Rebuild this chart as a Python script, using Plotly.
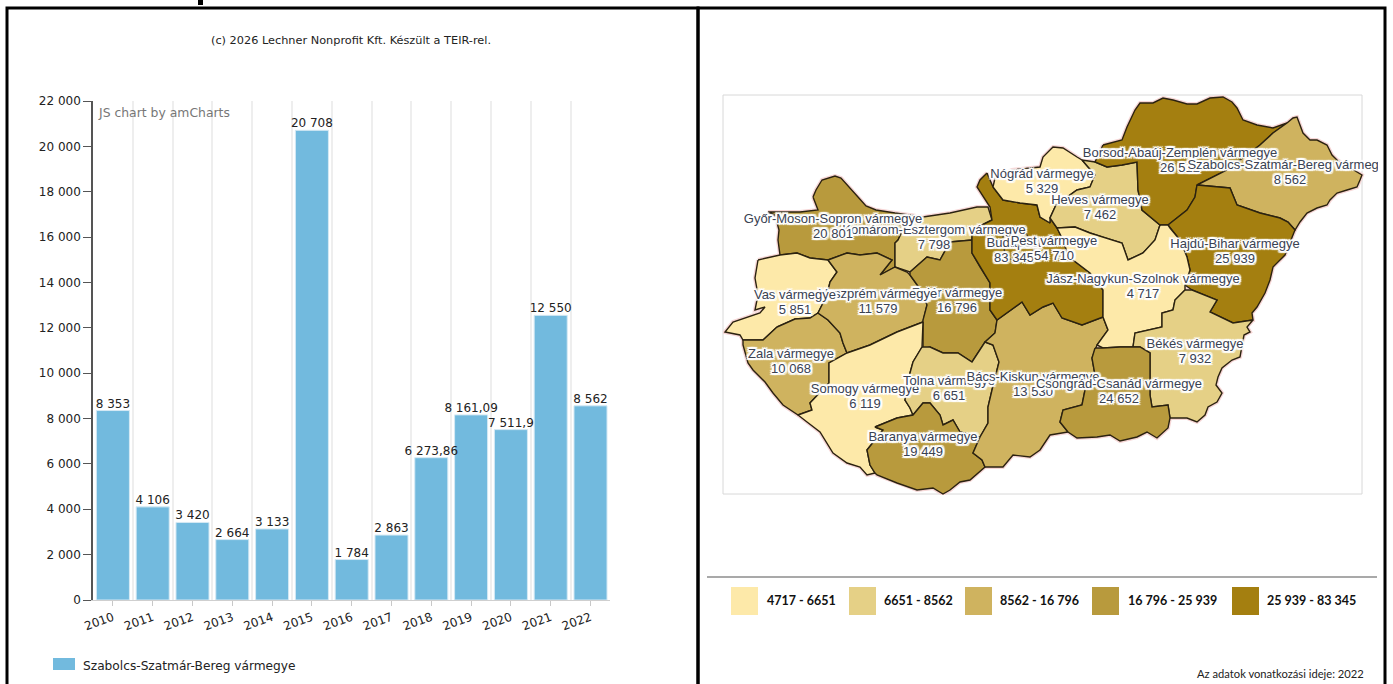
import plotly.graph_objects as go

W, H = 1393, 684

# ---------- bar chart data ----------
years = list(range(2010, 2023))
values = [8353, 4106, 3420, 2664, 3133, 20708, 1784, 2863, 6273.86, 8161.09, 7511.9, 12550, 8562]
value_labels = ["8 353", "4 106", "3 420", "2 664", "3 133", "20 708", "1 784", "2 863",
                "6 273,86", "8 161,09", "7 511,9", "12 550", "8 562"]
y_ticks = list(range(0, 22001, 2000))
y_tick_labels = ["0", "2 000", "4 000", "6 000", "8 000", "10 000", "12 000", "14 000",
                 "16 000", "18 000", "20 000", "22 000"]
series_name = "Szabolcs-Szatmár-Bereg vármegye"

# ---------- map data: class colours and limits ----------
class_colors = ["#FDE9A9", "#E5D086", "#CFB35F", "#B89A3D", "#A47F10"]
class_labels = ["4717 - 6651", "6651 - 8562", "8562 - 16 796", "16 796 - 25 939", "25 939 - 83 345"]

# county outlines in map units
gyor = [(813,197),(816,190),(822,180),(835,176),(841,178),(847,185),(858,197),(866,206),(876,210),(895,213),(910,215),
        (898,240),(895,243),(895,267),(880,275),(892,260),(877,253),(860,255),(847,253),(828,260),(810,258),(797,253),
        (780,255),(778,240),(779,230),(775,215),(768,212),(800,212),(818,210)]
komarom = [(910,215),(923,217),(950,213),(977,207),(988,207),(992,220),(972,230),(972,240),(950,242),(940,260),
           (927,257),(910,272),(895,267),(895,243),(898,240)]
vas = [(758,260),(780,255),(797,253),(810,258),(828,260),(837,272),(830,282),(827,295),(818,313),(810,318),(795,319),
       (777,327),(763,340),(743,340),(740,335),(725,332),(733,322),(750,316),(760,313),(765,307),(755,310),(758,295),(755,278)]
zala = [(777,327),(795,319),(810,318),(818,313),(828,320),(840,333),(843,343),(847,353),(829,363),(829,383),(810,403),
        (812,410),(798,415),(783,405),(773,393),(765,382),(753,370),(748,363),(743,345),(743,340),(763,340)]
veszprem = [(828,260),(847,253),(860,255),(877,253),(892,260),(880,275),(895,267),(907,272),(910,275),(923,293),(927,305),
            (923,320),(923,322),(897,332),(870,345),(847,353),(843,343),(840,333),(828,320),(818,313),(827,295),(830,282),(837,272)]
fejer = [(910,272),(927,257),(940,260),(950,242),(972,240),(972,253),(980,267),(990,283),(990,310),(997,320),(995,333),
         (985,342),(972,362),(958,353),(943,353),(930,347),(923,349),(923,320),(927,305),(923,293),(910,275)]
somogy = [(923,322),(922,347),(913,362),(910,373),(905,400),(910,408),(913,415),(897,418),(875,427),(883,430),(867,450),
          (870,465),(875,473),(867,475),(860,467),(847,463),(833,453),(820,432),(807,422),(798,415),(812,410),(810,403),(829,383),
          (829,363),(847,353),(870,345),(897,332)]
tolna = [(922,347),(930,347),(943,353),(958,353),(972,362),(985,342),(993,345),(999,362),(992,390),(988,407),(988,423),
         (980,437),(960,432),(953,420),(943,425),(940,415),(930,403),(923,403),(913,415),(910,408),(905,400),(910,373),(913,362)]
baranya = [(875,427),(897,418),(913,415),(923,403),(930,403),(940,415),(943,425),(953,420),(960,432),(980,437),(973,453),
           (982,460),(985,467),(970,480),(960,482),(950,490),(943,494),(933,488),(917,490),(897,483),(877,475),(875,473),(870,465),
           (867,450),(883,430)]
bacs = [(997,320),(1022,302),(1030,315),(1043,307),(1053,303),(1062,318),(1082,325),(1103,317),(1108,330),(1097,345),
        (1092,358),(1095,375),(1085,390),(1082,405),(1063,410),(1060,422),(1068,432),(1050,435),(1040,450),(1030,457),
        (1013,455),(1003,467),(985,467),(982,460),(973,453),(980,437),(988,423),(988,407),(992,390),(999,362),(993,345),
        (985,342),(995,333)]
pest = [(987,173),(980,180),(977,187),(990,207),(992,220),(972,230),(972,253),(980,267),(990,283),(990,310),(997,320),
        (1022,302),(1030,315),(1043,307),(1053,303),(1062,318),(1082,325),(1103,317),(1103,290),(1090,273),(1073,260),
        (1068,255),(1063,240),(1057,228),(1050,218),(1050,223),(1040,217),(1037,205),(1020,203),(1003,200),(993,187)]
budapest = [(1003,235),(1025,232),(1035,248),(1025,262),(1005,258)]
nograd = [(993,187),(1003,200),(1020,203),(1037,205),(1040,217),(1050,223),(1050,218),(1056,205),(1077,190),(1090,187),
          (1095,175),(1082,160),(1077,157),(1063,148),(1053,147),(1043,157),(1040,167),(1012,170),(995,178)]
heves = [(1082,160),(1095,162),(1107,167),(1122,165),(1137,162),(1138,190),(1142,210),(1160,225),(1155,240),(1143,253),
         (1128,260),(1122,243),(1102,237),(1090,233),(1075,227),(1057,228),(1050,218),(1056,205),(1077,190),(1090,187),(1095,175)]
borsod = [(1103,145),(1122,140),(1127,127),(1135,110),(1140,103),(1153,103),(1163,98),(1173,100),(1187,104),(1197,104),
          (1210,98),(1223,97),(1232,102),(1237,108),(1243,120),(1257,125),(1273,128),(1287,123),(1273,133),(1260,145),
          (1227,170),(1197,185),(1195,197),(1187,210),(1168,225),(1160,225),
          (1142,210),(1138,190),(1137,162),(1122,165),(1107,167),(1095,162)]
szabolcs = [(1287,123),(1293,118),(1297,117),(1300,125),(1303,133),(1310,140),(1317,140),(1327,145),(1332,155),(1337,160),
            (1350,168),(1362,175),(1360,180),(1357,187),(1347,190),(1337,193),(1330,200),(1327,205),(1317,208),(1307,213),
            (1300,222),(1295,230),(1288,222),(1280,218),(1260,213),(1237,205),(1230,188),(1197,185),(1227,170),(1260,145),(1273,133)]
hajdu = [(1197,185),(1230,188),(1237,205),(1260,213),(1280,218),(1288,222),(1295,230),(1285,255),(1280,260),(1273,267),
         (1270,280),(1265,293),(1257,307),(1252,313),(1253,320),(1233,323),(1210,312),(1217,300),(1192,290),(1185,285),
         (1190,270),(1187,257),(1180,240),(1170,228),(1168,225),(1187,210),(1195,197)]
jasz = [(1160,225),(1168,225),(1170,228),(1180,240),(1187,257),(1190,270),(1185,285),(1185,290),(1175,300),(1173,310),
        (1162,313),(1162,327),(1135,333),(1133,347),(1120,347),(1103,348),(1097,345),(1108,330),(1103,317),(1103,290),
        (1090,273),(1073,260),(1068,255),(1063,240),(1057,228),(1075,227),(1090,233),(1102,237),(1122,243),(1128,260),
        (1143,253),(1155,240)]
bekes = [(1185,290),(1192,290),(1217,300),(1210,312),(1233,323),(1253,320),(1247,327),(1250,332),(1244,335),(1242,345),
         (1240,357),(1232,360),(1222,368),(1218,377),(1216,385),(1222,393),(1217,402),(1208,407),(1205,415),(1197,422),
         (1187,418),(1170,418),(1168,405),(1152,407),(1150,395),(1150,353),
         (1140,347),(1133,347),(1135,333),(1162,327),(1162,313),(1173,310),(1175,300)]
csongrad = [(1095,348),(1103,348),(1120,347),(1140,347),(1150,353),(1150,395),(1152,407),(1168,405),(1170,418),(1168,428),
            (1157,438),(1147,432),(1137,437),(1120,441),(1110,435),(1097,437),(1077,438),(1068,432),(1060,422),(1063,410),
            (1082,405),(1085,390),(1095,375),(1092,358)]

county_shapes = [gyor, komarom, vas, zala, veszprem, fejer, somogy, tolna, baranya, bacs, pest, budapest, nograd, heves,
                 borsod, szabolcs, hajdu, jasz, bekes, csongrad]
county_classes = [3, 1, 0, 2, 2, 3, 0, 1, 3, 2, 4, 4, 0, 1, 4, 2, 4, 0, 1, 3]

# labels drawn in this order, later ones cover earlier ones
label_names = ["Komárom-Esztergom vármegye", "Győr-Moson-Sopron vármegye", "Fejér vármegye", "Veszprém vármegye",
               "Vas vármegye", "Zala vármegye", "Somogy vármegye", "Tolna vármegye", "Bács-Kiskun vármegye",
               "Csongrád-Csanád vármegye", "Baranya vármegye", "Budapest", "Pest vármegye", "Nógrád vármegye",
               "Heves vármegye", "Borsod-Abaúj-Zemplén vármegye", "Szabolcs-Szatmár-Bereg vármegye",
               "Hajdú-Bihar vármegye", "Jász-Nagykun-Szolnok vármegye", "Békés vármegye"]
label_values = ["7 798", "20 801", "16 796", "11 579", "5 851", "10 068", "6 119", "6 651", "13 530", "24 652", "19 449",
                "83 345", "54 710", "5 329", "7 462", "26 512", "8 562", "25 939", "4 717", "7 932"]
label_x = [934, 833, 957, 878, 795, 791, 865, 949, 1033, 1119, 923, 1014, 1054, 1042, 1100, 1180, 1290, 1235, 1143, 1195]
label_y = [238, 227, 301, 302, 303, 362, 397, 389, 385, 392, 445, 251, 249, 182, 208, 161, 173, 252, 287, 352]

# ---------- figure ----------
def px_x(v):
    return v / W

def px_y(v):
    return 1 - v / H

fig = go.Figure()

fig.add_bar(x=years, y=values, marker=dict(color="#72BADE", line=dict(color="#D5E9F4", width=1)),
            width=0.83, showlegend=False, name=series_name)
# value labels sit in their own layer so that later bars do not cover them
fig.add_scatter(x=years, y=values, mode="text", text=value_labels, textposition="top center", cliponaxis=False,
                textfont=dict(family="DejaVu Sans", size=12, color="#222222"), showlegend=False, hoverinfo="skip")

# map: pink halo pass, then fills with borders
def poly_xy(poly):
    xs, ys = zip(*poly)
    return list(xs) + [xs[0]], list(ys) + [ys[0]]

for poly in county_shapes:
    xs, ys = poly_xy(poly)
    fig.add_scatter(x=xs, y=ys, mode="lines", line=dict(color="#F6D6D6", width=4), xaxis="x2", yaxis="y2",
                    showlegend=False, hoverinfo="skip")
for poly, cls in zip(county_shapes, county_classes):
    xs, ys = poly_xy(poly)
    fig.add_scatter(x=xs, y=ys, mode="lines", fill="toself", fillcolor=class_colors[cls],
                    line=dict(color="#2B2210", width=1.4), xaxis="x2", yaxis="y2",
                    showlegend=False, hoverinfo="skip")

halo = ("1px 0 0 #fff,-1px 0 0 #fff,0 1px 0 #fff,0 -1px 0 #fff,1px 1px 0 #fff,-1px -1px 0 #fff,1px -1px 0 #fff,-1px 1px 0 #fff,"
        "2px 0 1px #fff,-2px 0 1px #fff,0 2px 1px #fff,0 -2px 1px #fff,2px 2px 1px #fff,-2px -2px 1px #fff,2px -2px 1px #fff,-2px 2px 1px #fff")
for nm, val, lx, ly in zip(label_names, label_values, label_x, label_y):
    fig.add_scatter(x=[lx, lx], y=[ly - 7.5, ly + 7.5], mode="text", text=[nm, val], textposition="middle center",
                    textfont=dict(family="Liberation Sans", size=13, color="#3A4252", shadow=halo),
                    xaxis="x2", yaxis="y2", showlegend=False, hoverinfo="skip")

shapes = []
def rect(x0, y0, x1, y1, fill=None, line=None, lw=0, layer="above"):
    shapes.append(dict(type="rect", xref="paper", yref="paper", x0=px_x(x0), x1=px_x(x1), y0=px_y(y0), y1=px_y(y1),
                       fillcolor=fill or "rgba(0,0,0,0)", line=dict(color=line or "rgba(0,0,0,0)", width=lw), layer=layer))

def hline(x0, x1, y, color, lw):
    shapes.append(dict(type="line", xref="paper", yref="paper", x0=px_x(x0), x1=px_x(x1), y0=px_y(y), y1=px_y(y),
                       line=dict(color=color, width=lw), layer="above"))

# frames
rect(7, 8, 698, 690, line="#000000", lw=3)
rect(698, 8, 1385, 690, line="#000000", lw=3)
rect(198, -2, 203, 5, fill="#000000")
# map box
rect(723, 95, 1362, 494, line="#D8D8D8", lw=1, layer="below")
# map legend separator
hline(707, 1377, 577, "#8C8C8C", 1.5)
# legend swatches
swatch_x = [731, 849, 965, 1092, 1232]
label_left = [765, 882, 998, 1126, 1265]
for sx, col in zip(swatch_x, class_colors):
    rect(sx, 587, sx + 27, 615, fill=col)
# bar legend swatch
rect(53, 658, 75, 670, fill="#72BADE")

annotations = []
def note(text, x, y, size, family, color="#222222", anchor="left", weight=None):
    annotations.append(dict(text=text, xref="paper", yref="paper", x=px_x(x), y=px_y(y), xanchor=anchor, yanchor="middle",
                            showarrow=False, align=anchor, font=dict(family=family, size=size, color=color, weight=weight)))

note("(c) 2026 Lechner Nonprofit Kft. Készült a TEIR-rel.", 351, 40, 11.3, "DejaVu Sans", anchor="center")
note("JS chart by amCharts", 96, 112, 12.4, "DejaVu Sans", color="#777777")
note(series_name, 81, 666, 12.2, "DejaVu Sans")
for lx, txt in zip(label_left, class_labels):
    note(txt, lx, 600, 12.5, "Lato", color="#111111", weight=700)
note("Az adatok vonatkozási ideje: 2022", 1366, 673, 11.2, "Lato", anchor="right")

fig.update_layout(
    width=W, height=H, autosize=False, margin=dict(l=0, r=0, t=0, b=0, autoexpand=False),
    paper_bgcolor="#FFFFFF", plot_bgcolor="rgba(0,0,0,0)", showlegend=False, bargap=0.17,
    xaxis=dict(domain=[px_x(93), px_x(610.4)], range=[2009.5, 2022.5], tickmode="linear", tick0=2010, dtick=1,
               tickangle=-20, ticks="outside", ticklen=5, tickcolor="#C8C8C8", showgrid=False, zeroline=False,
               showline=True, linecolor="#CFCFCF", linewidth=1, anchor="y",
               tickfont=dict(family="DejaVu Sans", size=12, color="#222222"),
               minor=dict(tick0=2009.5, dtick=1, showgrid=True, gridcolor="#EEEEEE", gridwidth=2, ticks="")),
    yaxis=dict(domain=[px_y(600), px_y(101)], range=[0, 22000], tickmode="array", tickvals=y_ticks, ticktext=y_tick_labels,
               ticks="outside", ticklen=8, tickcolor="#555555", showgrid=False, zeroline=False, showline=True,
               linecolor="#555555", linewidth=1.5, anchor="x",
               tickfont=dict(family="DejaVu Sans", size=12, color="#222222")),
    xaxis2=dict(domain=[px_x(723), px_x(1378)], range=[723, 1378], visible=False, anchor="y2", fixedrange=True),
    yaxis2=dict(domain=[px_y(495), px_y(95)], range=[495, 95], visible=False, anchor="x2", fixedrange=True),
    shapes=shapes, annotations=annotations,
)

fig.write_html("out.html", config=dict(displayModeBar=False),
               post_script="document.body.style.margin='0';document.body.style.overflow='hidden';")
